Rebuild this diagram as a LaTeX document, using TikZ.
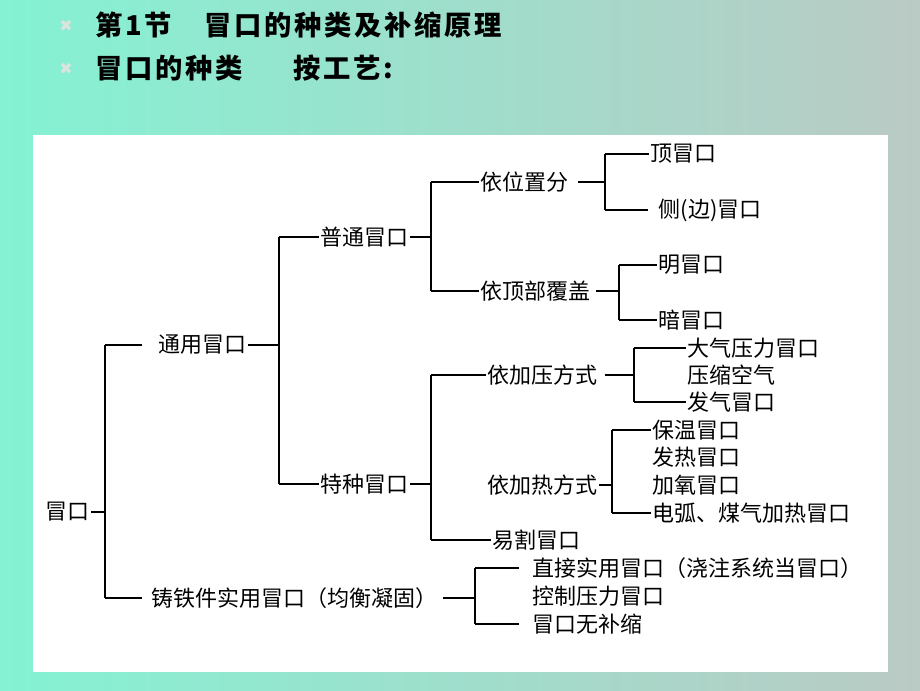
\documentclass[tikz,border=0pt]{standalone}
\usepackage{fontspec}
\newfontfamily\cjk{Noto Sans CJK SC}
\newfontfamily\cjktitle[LetterSpace=10]{Noto Sans CJK SC}
\newfontfamily\symfont{DejaVu Sans}
\definecolor{bgleft}{RGB}{132,242,211}
\definecolor{bgright}{RGB}{186,202,196}
\definecolor{bulletgray}{RGB}{220,228,224}
\tikzset{
  lbl/.style={anchor=west, inner sep=1pt, text=black, font=\cjk\fontsize{16.5pt}{18pt}\selectfont},
  ttl/.style={anchor=west, inner sep=0pt, text=black, font=\cjktitle\bfseries\fontsize{20.5pt}{24pt}\selectfont},
  bul/.style={inner sep=0pt, text=bulletgray, font=\symfont\fontsize{12pt}{12pt}\selectfont},
  conn/.style={draw=black, line width=0.8pt}
}
\begin{document}
\begin{tikzpicture}[x=0.75pt,y=-0.75pt]
\useasboundingbox (0,0) rectangle (920,690);
\shade[left color=bgleft, right color=bgright] (0,0) rectangle (920,690);
\fill[white] (33,135) rectangle (888,672);

% title
\node[bul] (b1) at (66,26) {✖};
\node[bul] (b2) at (66,69) {✖};
\node[ttl] (t1) at (95,25) {第1节\hspace{24pt}冒口的种类及补缩原理};
\node[ttl] (t2) at (95,68) {冒口的种类\hspace{38pt}按工艺:};

% junction x positions
\coordinate (j0) at (105,0);
\coordinate (j1) at (279,0);
\coordinate (j2) at (431,0);
\coordinate (jw) at (605,0);
\coordinate (jd) at (619,0);
\coordinate (jp) at (634,0);
\coordinate (jh) at (612,0);
\coordinate (jz) at (475,0);

% nodes
\node[lbl] (root) at (44,512) {冒口};
\node[lbl] (tongyong) at (157,345) {通用冒口};
\node[lbl] (zhutie) at (150,598) {铸铁件实用冒口（均衡凝固）};
\node[lbl] (putong) at (319,237) {普通冒口};
\node[lbl] (tezhong) at (319,484) {特种冒口};
\node[lbl] (weizhi) at (479,182) {依位置分};
\node[lbl] (dingbu) at (479,291) {依顶部覆盖};
\node[lbl] (jiaya) at (486,375) {依加压方式};
\node[lbl] (jiare) at (486,485) {依加热方式};
\node[lbl] (yige) at (491,540) {易割冒口};
\node[lbl] (ding) at (649,154) {顶冒口};
\node[lbl] (ce) at (657,210) {侧(边)冒口};
\node[lbl] (ming) at (657,265) {明冒口};
\node[lbl] (an) at (657,320) {暗冒口};
\node[lbl] (dq) at (686,348) {大气压力冒口};
\node[lbl] (ys) at (686,375) {压缩空气};
\node[lbl] (fq) at (686,402) {发气冒口};
\node[lbl] (bw) at (651,430) {保温冒口};
\node[lbl] (fr) at (651,457) {发热冒口};
\node[lbl] (jy) at (651,485) {加氧冒口};
\node[lbl] (dh) at (651,513) {电弧、煤气加热冒口};
\node[lbl] (zj) at (531,568) {直接实用冒口（浇注系统当冒口）};
\node[lbl] (kz) at (531,596) {控制压力冒口};
\node[lbl] (wb) at (531,624) {冒口无补缩};

% root
\draw[conn] (root.east) -- (root.east -| j0);
\draw[conn] (j0 |- tongyong.west) -- (j0 |- zhutie.west);
\draw[conn, shorten >=11pt] (j0 |- tongyong.west) -- (tongyong.west);
\draw[conn, shorten >=6pt] (j0 |- zhutie.west) -- (zhutie.west);

% tongyong
\draw[conn] (tongyong.east) -- (tongyong.east -| j1);
\draw[conn] (j1 |- putong.west) -- (j1 |- tezhong.west);
\draw[conn] (j1 |- putong.west) -- (putong.west);
\draw[conn] (j1 |- tezhong.west) -- (tezhong.west);

% putong
\draw[conn] (putong.east) -- (putong.east -| j2);
\draw[conn] (j2 |- weizhi.west) -- (j2 |- dingbu.west);
\draw[conn] (j2 |- weizhi.west) -- (weizhi.west);
\draw[conn] (j2 |- dingbu.west) -- (dingbu.west);

% weizhi
\draw[conn, shorten <=6pt] (weizhi.east) -- (weizhi.east -| jw);
\draw[conn] (jw |- ding.west) -- (jw |- ce.west);
\draw[conn] (jw |- ding.west) -- (ding.west);
\draw[conn, shorten >=7pt] (jw |- ce.west) -- (ce.west);

% dingbu
\draw[conn, shorten <=3pt] (dingbu.east) -- (dingbu.east -| jd);
\draw[conn] (jd |- ming.west) -- (jd |- an.west);
\draw[conn] (jd |- ming.west) -- (ming.west);
\draw[conn] (jd |- an.west) -- (an.west);

% tezhong
\draw[conn] (tezhong.east) -- (tezhong.east -| j2);
\draw[conn] (j2 |- jiaya.west) -- (j2 |- yige.west);
\draw[conn] (j2 |- jiaya.west) -- (jiaya.west);
\draw[conn] (j2 |- yige.west) -- (yige.west);

% jiaya
\draw[conn, shorten <=4pt] (jiaya.east) -- (jiaya.east -| jp);
\draw[conn] (jp |- dq.west) -- (jp |- fq.west);
\draw[conn] (jp |- dq.west) -- (dq.west);
\draw[conn] (jp |- fq.west) -- (fq.west);

% jiare
\draw[conn] (jiare.east) -- (jiare.east -| jh);
\draw[conn] (jh |- bw.west) -- (jh |- dh.west);
\draw[conn] (jh |- bw.west) -- (bw.west);
\draw[conn] (jh |- dh.west) -- (dh.west);

% zhutie
\draw[conn, shorten <=3pt] (zhutie.east) -- (zhutie.east -| jz);
\draw[conn] (jz |- zj.west) -- (jz |- wb.west);
\draw[conn, shorten >=9pt] (jz |- zj.west) -- (zj.west);
\draw[conn, shorten >=9pt] (jz |- wb.west) -- (wb.west);
\end{tikzpicture}
\end{document}
